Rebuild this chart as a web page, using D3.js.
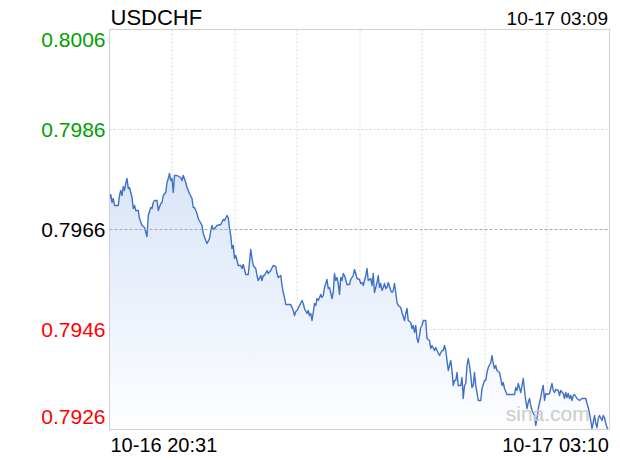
<!DOCTYPE html>
<html>
<head>
<meta charset="utf-8">
<script src="https://d3js.org/d3.v7.min.js"></script>
<style>
  html, body { margin: 0; padding: 0; background: #fff; overflow: hidden; }
  svg { display: block; font-family: "Liberation Sans", Arial, Helvetica, sans-serif; }
</style>
</head>
<body>
<svg></svg>
<script>
// minutes after 10-16 20:31 and USDCHF price
var mins = [0,1,2,3,4,7,8,9,10,11,12,13,14,15,16,17,18,19,20,21,23,24,26,28,30,31,33,34,35,36,38,39,41,42,43,45,46,47,48,49,50,51,52,54,57,58,59,61,62,64,66,67,68,70,71,74,75,77,78,80,81,82,83,84,86,89,91,92,94,95,96,97,98,99,100,101,103,105,106,107,109,111,112,113,114,115,117,118,119,121,122,123,124,126,127,129,131,133,134,135,137,138,139,140,141,142,145,147,148,149,150,152,154,155,156,158,159,160,161,162,163,164,165,166,167,169,170,171,172,173,174,175,176,178,179,180,181,182,183,184,185,186,187,188,190,192,193,195,196,197,198,200,201,202,203,204,205,206,207,209,210,211,212,213,214,215,216,217,218,219,220,221,222,223,225,226,227,228,229,230,231,233,234,236,237,238,239,241,242,243,244,245,246,247,248,249,250,251,253,254,256,257,258,260,261,262,264,266,267,268,269,270,271,273,274,275,276,277,278,279,281,282,283,284,285,286,287,288,289,290,291,292,293,294,295,297,298,300,301,302,303,305,306,307,308,309,310,312,313,314,315,316,318,321,324,325,326,327,329,330,331,332,333,334,335,336,337,338,340,341,342,343,345,346,347,348,349,350,352,353,354,355,356,357,359,360,361,363,364,365,366,367,368,369,370,371,372,374,376,378,381,382,383,384,385,386,387,388,389,390,391,392,394,395,396,397,398,399];
var prices = [0.79722,0.79730,0.79714,0.79722,0.79708,0.79708,0.79728,0.79738,0.79728,0.79746,0.79738,0.79752,0.79762,0.79742,0.79744,0.79734,0.79724,0.79702,0.79708,0.79698,0.79698,0.79682,0.79668,0.79664,0.79646,0.79688,0.79704,0.79702,0.79714,0.79718,0.79718,0.79698,0.79712,0.79714,0.79728,0.79734,0.79754,0.79762,0.79772,0.79758,0.79762,0.79734,0.79768,0.79768,0.79764,0.79758,0.79768,0.79754,0.79744,0.79732,0.79722,0.79704,0.79704,0.79692,0.79682,0.79668,0.79652,0.79638,0.79632,0.79642,0.79658,0.79668,0.79660,0.79662,0.79668,0.79670,0.79680,0.79678,0.79688,0.79684,0.79662,0.79648,0.79622,0.79628,0.79602,0.79608,0.79588,0.79588,0.79582,0.79590,0.79570,0.79570,0.79594,0.79620,0.79602,0.79588,0.79582,0.79568,0.79558,0.79568,0.79558,0.79568,0.79568,0.79578,0.79572,0.79578,0.79588,0.79586,0.79572,0.79564,0.79568,0.79548,0.79534,0.79524,0.79510,0.79510,0.79510,0.79498,0.79488,0.79496,0.79498,0.79508,0.79518,0.79512,0.79502,0.79492,0.79498,0.79488,0.79492,0.79478,0.79494,0.79512,0.79508,0.79522,0.79518,0.79530,0.79524,0.79528,0.79544,0.79552,0.79560,0.79542,0.79544,0.79522,0.79534,0.79572,0.79558,0.79564,0.79552,0.79530,0.79564,0.79558,0.79572,0.79568,0.79550,0.79550,0.79560,0.79568,0.79580,0.79572,0.79562,0.79560,0.79552,0.79554,0.79548,0.79558,0.79568,0.79582,0.79558,0.79562,0.79548,0.79572,0.79534,0.79544,0.79554,0.79568,0.79544,0.79552,0.79538,0.79544,0.79552,0.79542,0.79544,0.79554,0.79538,0.79534,0.79538,0.79552,0.79534,0.79514,0.79508,0.79504,0.79494,0.79478,0.79492,0.79502,0.79478,0.79474,0.79462,0.79468,0.79454,0.79468,0.79442,0.79434,0.79448,0.79464,0.79468,0.79478,0.79478,0.79442,0.79438,0.79422,0.79428,0.79418,0.79424,0.79418,0.79408,0.79418,0.79418,0.79428,0.79418,0.79398,0.79378,0.79398,0.79378,0.79348,0.79358,0.79358,0.79374,0.79348,0.79348,0.79364,0.79322,0.79348,0.79352,0.79388,0.79402,0.79388,0.79368,0.79344,0.79348,0.79374,0.79348,0.79334,0.79318,0.79318,0.79342,0.79358,0.79358,0.79374,0.79384,0.79394,0.79408,0.79392,0.79382,0.79388,0.79378,0.79374,0.79362,0.79348,0.79354,0.79342,0.79330,0.79330,0.79330,0.79344,0.79338,0.79352,0.79334,0.79348,0.79362,0.79338,0.79318,0.79302,0.79314,0.79322,0.79308,0.79298,0.79288,0.79268,0.79282,0.79302,0.79324,0.79338,0.79348,0.79318,0.79332,0.79330,0.79332,0.79342,0.79352,0.79338,0.79334,0.79340,0.79338,0.79328,0.79338,0.79332,0.79322,0.79334,0.79324,0.79332,0.79322,0.79328,0.79318,0.79328,0.79330,0.79322,0.79318,0.79322,0.79322,0.79312,0.79304,0.79292,0.79278,0.79262,0.79274,0.79288,0.79272,0.79264,0.79282,0.79288,0.79278,0.79288,0.79284,0.79272,0.79264,0.79258];

var yTicks = [0.8006, 0.7986, 0.7966, 0.7946, 0.7926];
var prevClose = 0.7966;
var xGridMins = [50, 100, 150, 200, 250, 300, 350];
var symbol = "USDCHF";
var updateTime = "10-17 03:09";
var xLabels = ["10-16 20:31", "10-17 03:10"];

var w = 620, h = 460;
var margin = {top: 29.5, right: 10.5, bottom: 30.5, left: 109.5};

var svg = d3.select("svg").attr("width", w).attr("height", h);

// scales in page coordinates
var x = d3.scaleLinear().domain([0, 400]).range([margin.left, w - margin.right]);
var y = d3.scaleLinear().domain([0.7926, 0.8006]).range([h - margin.bottom, margin.top]);

var data = mins.map((m, i) => ({m: m, p: prices[i]}));

var defs = svg.append("defs");
var grad = defs.append("linearGradient")
    .attr("id", "fillGrad")
    .attr("x1", 0).attr("y1", 0).attr("x2", 0).attr("y2", 1);
grad.append("stop").attr("offset", "0%").attr("stop-color", "#d9e5f8");
grad.append("stop").attr("offset", "100%").attr("stop-color", "#fdfeff");

defs.append("clipPath").attr("id", "clip")
  .append("rect")
    .attr("x", margin.left).attr("y", margin.top)
    .attr("width", w - margin.left - margin.right)
    .attr("height", h - margin.top - margin.bottom);

// grid
svg.selectAll(".vgrid")
  .data(xGridMins)
  .enter().append("line")
    .attr("x1", d => Math.round(x(d)))
    .attr("x2", d => Math.round(x(d)))
    .attr("y1", y.range()[1])
    .attr("y2", y.range()[0])
    .attr("stroke", "#d8d8d8")
    .attr("stroke-dasharray", "2,2");

svg.selectAll(".hgrid")
  .data(yTicks.slice(1, -1).filter(d => d !== prevClose))
  .enter().append("line")
    .attr("x1", x.range()[0]).attr("x2", x.range()[1])
    .attr("y1", d => y(d)).attr("y2", d => y(d))
    .attr("stroke", "#d8d8d8")
    .attr("stroke-dasharray", "2,2");

// area + line
var area = d3.area()
    .x(d => x(d.m))
    .y0(y.range()[0])
    .y1(d => y(d.p));

var line = d3.line()
    .x(d => x(d.m))
    .y(d => y(d.p));

var plot = svg.append("g").attr("clip-path", "url(#clip)");

plot.append("path")
    .datum(data)
    .attr("d", area)
    .attr("fill", "url(#fillGrad)");

// previous close line
svg.append("line")
    .attr("x1", x.range()[0]).attr("x2", x.range()[1])
    .attr("y1", y(prevClose)).attr("y2", y(prevClose))
    .attr("stroke", "#aaaaaa")
    .attr("stroke-dasharray", "3,2");

// watermark
svg.append("text")
    .attr("x", x(317))
    .attr("y", y.range()[0] - 9)
    .attr("font-size", 21)
    .attr("fill", "#cccccc")
    .text("sina.com");

plot.append("path")
    .datum(data)
    .attr("d", line)
    .attr("fill", "none")
    .attr("stroke", "#3d70c8")
    .attr("stroke-width", 1.4)
    .attr("stroke-linejoin", "round");

// frame
svg.append("rect")
    .attr("x", margin.left).attr("y", margin.top)
    .attr("width", w - margin.left - margin.right)
    .attr("height", h - margin.top - margin.bottom)
    .attr("fill", "none")
    .attr("stroke", "#d0d0d0");

// y labels
function labelColor(v) {
  if (v > prevClose) return "#00a000";
  if (v < prevClose) return "#ff0000";
  return "#000000";
}
svg.selectAll(".ylab")
  .data(yTicks)
  .enter().append("text")
    .attr("class", "ylab")
    .attr("x", margin.left - 4)
    .attr("y", (d, i) => i === 0 ? y(d) + 17 : (i === yTicks.length - 1 ? y(d) - 6 : y(d) + 7))
    .attr("text-anchor", "end")
    .attr("font-size", 21)
    .attr("fill", labelColor)
    .text(d => d.toFixed(4));

// titles
svg.append("text")
    .attr("x", margin.left + 1)
    .attr("y", 25)
    .attr("font-size", 22)
    .attr("fill", "#000")
    .text(symbol);

svg.append("text")
    .attr("x", w - 12)
    .attr("y", 25)
    .attr("text-anchor", "end")
    .attr("font-size", 19)
    .attr("fill", "#000")
    .text(updateTime);

// x labels
svg.append("text")
    .attr("x", margin.left + 1)
    .attr("y", 452)
    .attr("font-size", 20)
    .attr("fill", "#000")
    .text(xLabels[0]);

svg.append("text")
    .attr("x", w - 11)
    .attr("y", 452)
    .attr("text-anchor", "end")
    .attr("font-size", 20)
    .attr("fill", "#000")
    .text(xLabels[1]);
</script>
</body>
</html>
